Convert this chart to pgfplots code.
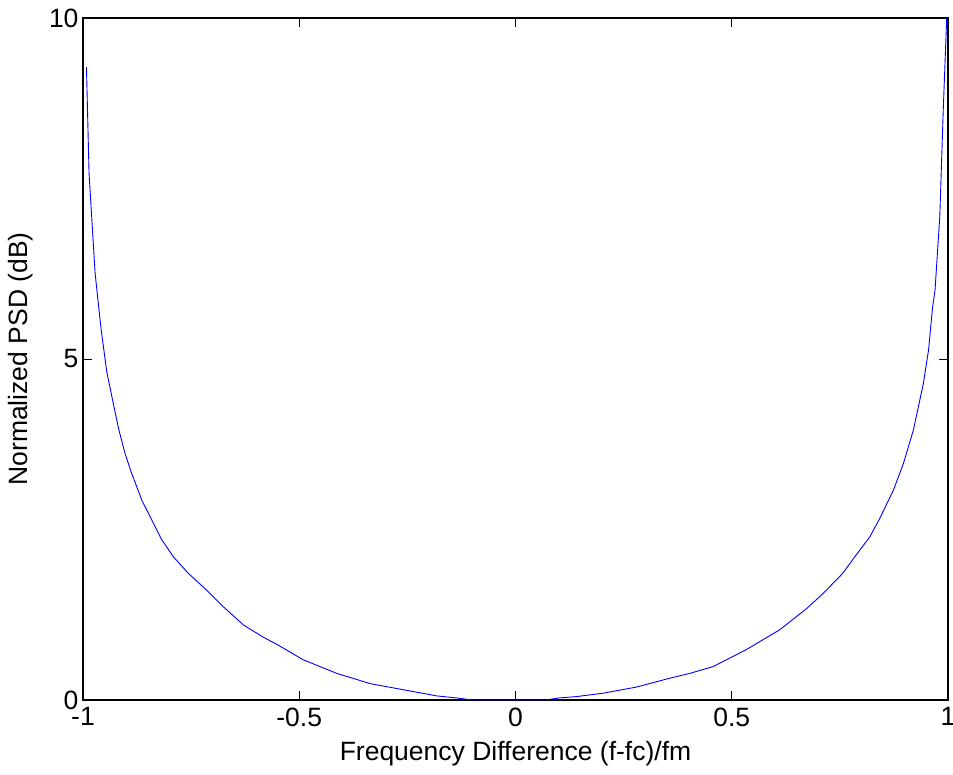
\documentclass[border=0pt]{standalone}
\usepackage{pgfplots}
\pgfplotsset{compat=1.18}
\usepackage{fontspec}
\setmainfont{Liberation Sans}
\begin{document}
\begin{tikzpicture}
\begin{axis}[
  scale only axis,
  width=865bp, height=682bp,
  xmin=-1, xmax=1, ymin=0, ymax=10,
  xtick={-1,-0.5,0,0.5,1},
  ytick={0,5,10},
  xticklabels={-1,-0.5,0,0.5,1},
  tick align=inside,
  major tick length=9bp,
  tick style={black, line width=0.8bp},
  axis line style={black, line width=1.3bp},
  ticklabel style={font=\fontsize{26.5bp}{30bp}\selectfont},
  label style={font=\fontsize{26.5bp}{30bp}\selectfont},
  /pgf/number format/assume math mode=true,
  xlabel={Frequency Difference (f-fc)/fm},
  ylabel={Normalized PSD (dB)},
  xlabel style={yshift=-8bp},
  ylabel style={yshift=9bp},
  xticklabel style={yshift=-4bp},
  yticklabel style={xshift=-1bp},
]
\coordinate (ll) at (rel axis cs:0,0);
\coordinate (ur) at (rel axis cs:1,1);
\addplot[blue, line width=0.9bp] coordinates {
(-0.992,9.28) (-0.986,7.72) (-0.972,6.26) (-0.963,5.72) (-0.958,5.43)
(-0.945,4.81) (-0.930,4.35) (-0.917,3.96) (-0.903,3.62) (-0.889,3.35)
(-0.864,2.93) (-0.845,2.69) (-0.818,2.35) (-0.791,2.10) (-0.757,1.86)
(-0.714,1.61) (-0.676,1.37) (-0.629,1.10) (-0.583,0.92) (-0.550,0.81)
(-0.491,0.59) (-0.413,0.39) (-0.336,0.24) (-0.259,0.15) (-0.182,0.06)
(-0.136,0.03) (-0.10,0.0) (0.07,0.0) (0.10,0.03) (0.141,0.05)
(0.203,0.10) (0.28,0.19) (0.357,0.32) (0.403,0.39) (0.457,0.49)
(0.534,0.74) (0.611,1.03) (0.673,1.34) (0.711,1.56) (0.757,1.86)
(0.788,2.13) (0.819,2.39) (0.842,2.66) (0.874,3.08) (0.897,3.47)
(0.920,3.96) (0.943,4.64) (0.955,5.13) (0.964,5.74) (0.970,6.01)
(0.981,7.09) (0.989,8.65) (0.997,10.0)
};
\end{axis}
\pgfresetboundingbox
\path (ll) ++(-83bp,-75bp) coordinate (a);
\path (ur) ++(5bp,18bp) coordinate (b);
\path (a) rectangle (b);
\end{tikzpicture}
\end{document}
